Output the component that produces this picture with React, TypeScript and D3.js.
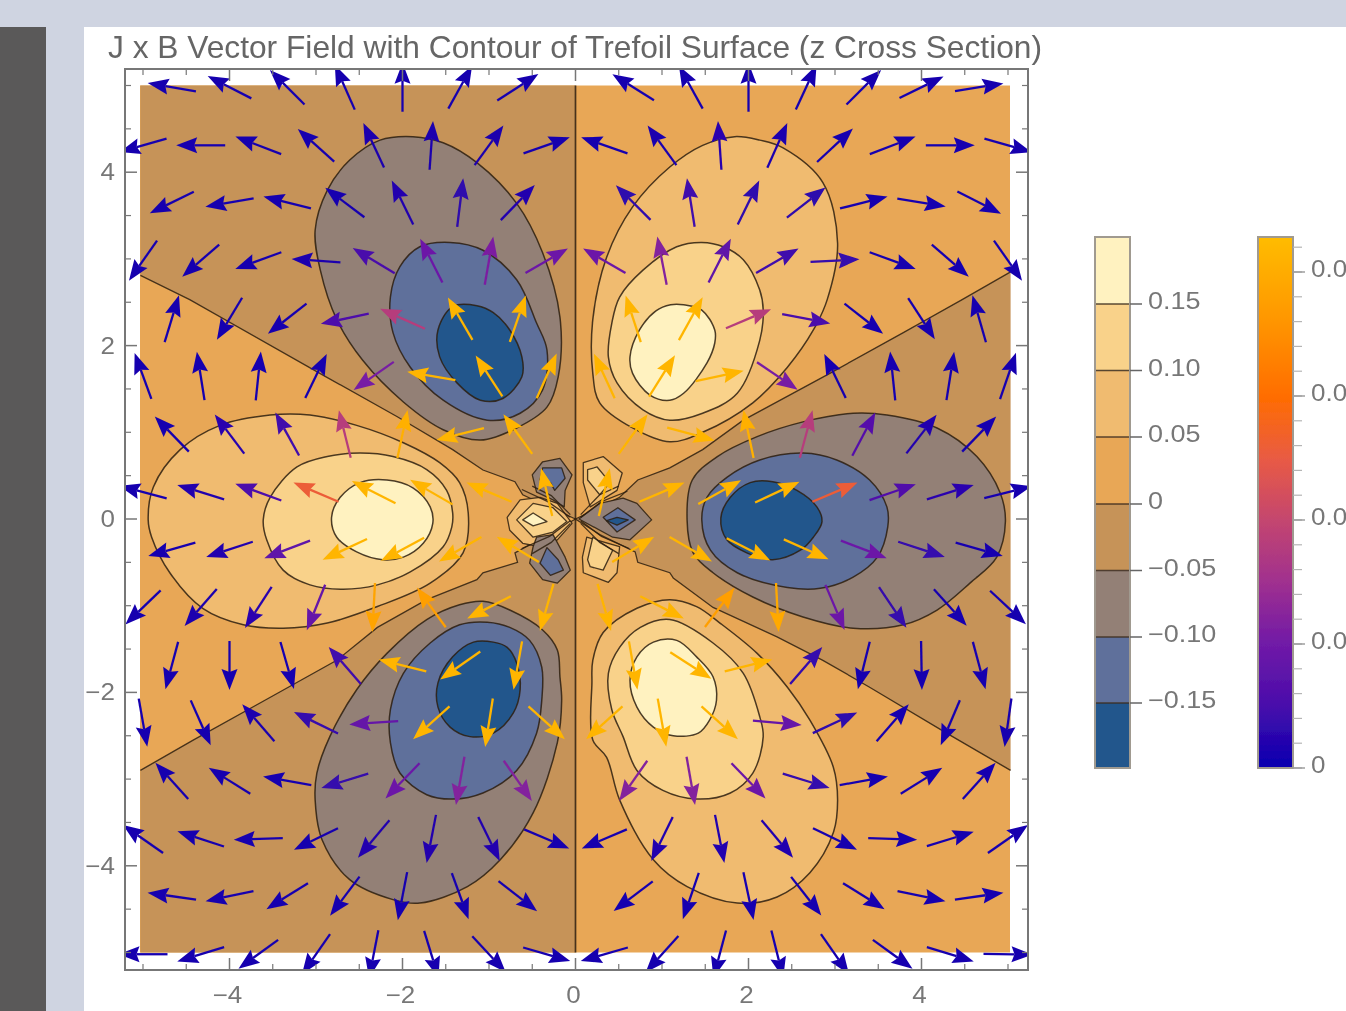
import React from "react";
import * as d3 from "d3";

type P = [number, number];

const title = "J x B Vector Field with Contour of Trefoil Surface (z Cross Section)";
const axisMajor = [-4, -2, 0, 2, 4];
const axisMinor = [-5, -4.5, -3.5, -3, -2.5, -1.5, -1, -0.5, 0.5, 1, 1.5, 2.5, 3, 3.5, 4.5, 5];

const levelLabels = ["0.15", "0.10", "0.05", "0", "\u22120.05", "\u22120.10", "\u22120.15"];
const levelColors = ["#FFF2C0", "#F9D28A", "#F0BB70", "#E8A757", "#C69358", "#938076", "#5E6F9B", "#23568C"];
const magLabels = ["0.0", "0.0", "0.0", "0.0", "0"];
const magStops = [0, 0.12, 0.233, 0.35, 0.467, 0.58, 0.7, 0.85, 1];
const magColors = ["#0800b0", "#4a0cab", "#701aa7", "#a0308f", "#c4466f", "#e85a45", "#ff6d00", "#ff9800", "#ffbc00"];

// zero contours (open edges of the darker sectors)
const zeroUpperLeft: P[] = [[-5.03, 2.81], [-4.46, 2.53], [-2.92, 1.66], [-2.06, 1.18], [-1.42, 0.8], [-1.07, 0.565], [-0.7, 0.43], [-0.61, 0.28], [-0.29, 0.13], [0, 0]];
const zeroRight: P[] = [[5.03, 2.85], [4.47, 2.53], [3.79, 2.15], [2.94, 1.68], [1.94, 1.14], [1.47, 0.8], [1.09, 0.59], [0.72, 0.45], [0.51, 0.25], [0, 0], [0.28, -0.18], [0.69, -0.38], [0.72, -0.5], [1.09, -0.62], [1.13, -0.68], [1.59, -1.02], [2.33, -1.36], [2.86, -1.63], [3.4, -1.94], [4.29, -2.47], [5.03, -2.9]];
const zeroLowerLeft: P[] = [[0, 0], [-0.3, -0.17], [-0.7, -0.39], [-0.67, -0.5], [-1.07, -0.62], [-1.14, -0.7], [-1.72, -0.93], [-2.29, -1.25], [-2.76, -1.63], [-3.59, -2.09], [-4.42, -2.55], [-5.03, -2.9]];
const zeroAxis: P[] = [[0, 5], [0, -5]];
const cornersUpperLeft: P[] = [[0, 5], [-5.03, 5]];
const cornersRight: P[] = [];
const cornersLowerLeft: P[] = [[-5.03, -5], [0, -5]];

// large lobes
const upperLeft05: P[] = [[-1.88, 4.41], [-1.53, 4.34], [-1.14, 4.11], [-0.68, 3.64], [-0.38, 3.07], [-0.18, 2.33], [-0.2, 1.64], [-0.33, 1.29], [-0.68, 1.05], [-1.1, 0.91], [-1.53, 1.03], [-1.99, 1.35], [-2.46, 1.83], [-2.76, 2.3], [-2.95, 2.87], [-3.01, 3.33], [-2.87, 3.79], [-2.61, 4.14], [-2.26, 4.37]];
const upperLeft10: P[] = [[-1.45, 3.19], [-1.07, 3.1], [-0.68, 2.76], [-0.45, 2.26], [-0.33, 1.95], [-0.38, 1.49], [-0.64, 1.22], [-1.02, 1.14], [-1.53, 1.37], [-1.91, 1.75], [-2.11, 2.15], [-2.14, 2.56], [-2.03, 2.91], [-1.8, 3.14]];
const upperLeft15: P[] = [[-1.14, 2.46], [-1.42, 2.45], [-1.59, 2.18], [-1.57, 1.87], [-1.37, 1.57], [-1.1, 1.37], [-0.84, 1.39], [-0.62, 1.64], [-0.62, 1.87], [-0.76, 2.18], [-0.95, 2.38]];
const upperRight05: P[] = [[1.84, 4.41], [2.13, 4.37], [2.4, 4.28], [2.86, 3.88], [3.03, 3.18], [2.91, 2.53], [2.75, 2.18], [2.45, 1.75], [2.05, 1.34], [1.47, 1.0], [1.09, 0.89], [0.66, 1.05], [0.28, 1.34], [0.2, 1.68], [0.2, 2.3], [0.36, 3.02], [0.66, 3.6], [1.09, 4.06], [1.47, 4.31]];
const upperRight10: P[] = [[1.46, 3.19], [1.71, 3.14], [1.94, 2.99], [2.13, 2.64], [2.17, 2.41], [2.13, 2.06], [1.87, 1.45], [1.47, 1.22], [1.09, 1.14], [0.78, 1.26], [0.48, 1.57], [0.38, 1.87], [0.42, 2.26], [0.51, 2.56], [0.78, 2.87], [1.17, 3.14]];
const upperRight15: P[] = [[1.1, 2.47], [1.25, 2.47], [1.46, 2.41], [1.61, 2.18], [1.61, 2.03], [1.52, 1.8], [1.25, 1.45], [1.09, 1.37], [0.86, 1.43], [0.66, 1.68], [0.63, 1.87], [0.74, 2.18], [0.93, 2.4]];
const left05: P[] = [[-4.94, -0.01], [-4.88, 0.37], [-4.57, 0.8], [-4.11, 1.08], [-3.53, 1.2], [-3.07, 1.2], [-2.53, 1.08], [-1.99, 0.88], [-1.57, 0.65], [-1.34, 0.42], [-1.24, 0.07], [-1.3, -0.39], [-1.68, -0.74], [-2.29, -1.01], [-2.87, -1.2], [-3.38, -1.26], [-3.84, -1.22], [-4.31, -1.03], [-4.69, -0.62], [-4.9, -0.21]];
const left10: P[] = [[-3.61, -0.01], [-3.53, 0.25], [-3.22, 0.6], [-2.87, 0.72], [-2.49, 0.76], [-2.11, 0.72], [-1.72, 0.57], [-1.49, 0.33], [-1.42, 0.07], [-1.43, -0.09], [-1.53, -0.32], [-1.91, -0.61], [-2.29, -0.76], [-2.69, -0.81], [-3.07, -0.76], [-3.38, -0.59], [-3.57, -0.24]];
const left15: P[] = [[-2.82, 0.02], [-2.72, 0.25], [-2.49, 0.42], [-2.18, 0.45], [-1.88, 0.36], [-1.68, 0.14], [-1.65, -0.05], [-1.76, -0.28], [-1.99, -0.44], [-2.23, -0.47], [-2.53, -0.38], [-2.76, -0.21]];
const right05: P[] = [[1.29, -0.01], [1.35, 0.45], [1.64, 0.72], [2.1, 0.95], [2.63, 1.12], [3.21, 1.22], [3.6, 1.2], [4.18, 1.05], [4.64, 0.72], [4.91, 0.3], [4.97, -0.03], [4.87, -0.44], [4.56, -0.74], [4.18, -1.05], [3.79, -1.22], [3.21, -1.26], [2.63, -1.13], [2.05, -0.9], [1.59, -0.62], [1.36, -0.39]];
const right10: P[] = [[1.46, -0.01], [1.52, 0.25], [1.75, 0.48], [2.13, 0.68], [2.63, 0.76], [3.02, 0.68], [3.4, 0.45], [3.6, 0.14], [3.61, -0.09], [3.49, -0.44], [3.21, -0.67], [2.83, -0.8], [2.45, -0.79], [1.87, -0.62], [1.56, -0.36]];
const right15: P[] = [[1.68, 0.01], [1.79, 0.25], [2.02, 0.42], [2.28, 0.43], [2.56, 0.33], [2.79, 0.14], [2.85, -0.03], [2.75, -0.21], [2.6, -0.36], [2.28, -0.47], [1.98, -0.39], [1.75, -0.24]];
const lowerRight05: P[] = [[1.09, -0.93], [0.71, -1.03], [0.32, -1.31], [0.2, -1.63], [0.19, -1.89], [0.2, -2.55], [0.36, -2.75], [0.51, -3.24], [0.9, -3.93], [1.29, -4.24], [1.87, -4.43], [2.33, -4.36], [2.71, -4.08], [2.98, -3.62], [3.03, -3.24], [2.98, -2.86], [2.71, -2.32], [2.45, -1.94], [2.1, -1.55], [1.67, -1.2], [1.4, -1.01]];
const lowerRight10: P[] = [[1.09, -1.16], [1.59, -1.43], [1.94, -1.78], [2.13, -2.28], [2.17, -2.51], [2.05, -2.93], [1.79, -3.16], [1.4, -3.23], [1.01, -3.13], [0.71, -2.9], [0.55, -2.51], [0.42, -2.2], [0.38, -1.78], [0.51, -1.48], [0.75, -1.25]];
const lowerRight15: P[] = [[0.9, -1.42], [1.17, -1.4], [1.4, -1.59], [1.59, -1.82], [1.63, -2.09], [1.55, -2.32], [1.42, -2.47], [1.13, -2.5], [0.9, -2.4], [0.71, -2.17], [0.63, -1.86], [0.71, -1.59]];
const lowerLeft05: P[] = [[-1.07, -0.95], [-1.34, -0.99], [-1.72, -1.16], [-2.18, -1.55], [-2.53, -1.97], [-2.84, -2.51], [-2.99, -2.93], [-3.01, -3.24], [-2.93, -3.7], [-2.61, -4.16], [-2.11, -4.39], [-1.8, -4.43], [-1.25, -4.24], [-0.87, -3.93], [-0.49, -3.39], [-0.21, -2.58], [-0.16, -2.09], [-0.18, -1.82], [-0.21, -1.51], [-0.38, -1.28], [-0.76, -1.05]];
const lowerLeft10: P[] = [[-1.02, -1.19], [-1.34, -1.22], [-1.68, -1.43], [-1.99, -1.78], [-2.14, -2.2], [-2.14, -2.58], [-2.03, -2.93], [-1.72, -3.18], [-1.42, -3.23], [-1.07, -3.16], [-0.68, -2.9], [-0.45, -2.47], [-0.39, -2.09], [-0.39, -1.71], [-0.53, -1.4], [-0.76, -1.25]];
const lowerLeft15: P[] = [[-0.95, -1.42], [-1.18, -1.42], [-1.42, -1.59], [-1.59, -1.89], [-1.59, -2.17], [-1.45, -2.4], [-1.22, -2.51], [-0.95, -2.47], [-0.72, -2.24], [-0.64, -1.97], [-0.68, -1.66], [-0.79, -1.48]];

// small features around the origin
const coreLeft05: P[] = [[-0.41, 0.25], [-0.64, 0.22], [-0.79, 0.02], [-0.76, -0.13], [-0.61, -0.28], [-0.41, -0.32], [-0.21, -0.24], [-0.04, -0.05], [-0.21, 0.18]];
const coreLeft10: P[] = [[-0.49, 0.18], [-0.68, -0.01], [-0.49, -0.21], [-0.26, -0.15], [-0.1, -0.03], [-0.26, 0.13]];
const coreLeft15: P[] = [[-0.49, 0.07], [-0.61, -0.01], [-0.49, -0.08], [-0.33, -0.03]];
const coreRight05: P[] = [[0.55, 0.24], [0.28, 0.18], [0.04, 0.0], [0.43, -0.21], [0.63, -0.24], [0.88, -0.01], [0.71, 0.18]];
const coreRight10: P[] = [[0.49, 0.13], [0.32, 0.02], [0.48, -0.15], [0.69, -0.01]];
const coreRight15: P[] = [[0.48, 0.02], [0.36, -0.02], [0.48, -0.07], [0.61, -0.01]];
const smallUL05: P[] = [[-0.5, 0.51], [-0.38, 0.66], [-0.18, 0.7], [-0.04, 0.51], [-0.12, 0.33], [-0.13, 0.14], [-0.26, 0.22], [-0.45, 0.31]];
const smallUL10: P[] = [[-0.38, 0.59], [-0.16, 0.59], [-0.12, 0.47], [-0.24, 0.33], [-0.29, 0.42], [-0.41, 0.45]];
const smallLL05: P[] = [[-0.45, -0.21], [-0.26, -0.18], [-0.12, -0.44], [-0.06, -0.59], [-0.21, -0.74], [-0.38, -0.7], [-0.53, -0.51], [-0.49, -0.32]];
const smallLL10: P[] = [[-0.33, -0.33], [-0.2, -0.47], [-0.14, -0.59], [-0.29, -0.65], [-0.41, -0.51]];
const smallUR05: P[] = [[0.09, 0.65], [0.32, 0.72], [0.54, 0.53], [0.48, 0.33], [0.17, 0.14], [0.09, 0.42]];
const smallUR10: P[] = [[0.14, 0.57], [0.25, 0.6], [0.4, 0.42], [0.28, 0.28], [0.14, 0.45]];
const smallLR05: P[] = [[0.13, -0.21], [0.51, -0.32], [0.48, -0.62], [0.38, -0.73], [0.09, -0.62], [0.08, -0.44]];
const smallLR10: P[] = [[0.2, -0.21], [0.43, -0.36], [0.32, -0.59], [0.17, -0.55], [0.14, -0.47]];

// bundles of contour lines converging on the origin
const bandUL1: P[] = [[-0.06, 0.02], [-0.32, 0.2], [-0.62, 0.34]];
const bandUL2: P[] = [[-0.06, 0.05], [-0.28, 0.27], [-0.5, 0.38]];
const bandUR1: P[] = [[0.06, 0.02], [0.3, 0.2], [0.6, 0.32]];
const bandUR2: P[] = [[0.06, 0.05], [0.28, 0.28], [0.5, 0.38]];
const bandLL1: P[] = [[-0.06, -0.02], [-0.3, -0.2], [-0.62, -0.34]];
const bandLL2: P[] = [[-0.06, -0.05], [-0.28, -0.27], [-0.5, -0.4]];
const bandLR1: P[] = [[0.06, -0.02], [0.3, -0.2], [0.62, -0.34]];
const bandLR2: P[] = [[0.06, -0.05], [0.28, -0.27], [0.5, -0.4]];

// arrows: staggered sample rows
const rowY = [4.98, 4.31, 3.65, 2.98, 2.31, 1.65, 0.98, 0.31, -0.35, -1.02, -1.69, -2.35, -3.02, -3.69, -4.35, -5.02];
const wholeCols = [-4.667, -4, -3.333, -2.667, -2, -1.333, -0.667, 0.667, 1.333, 2, 2.667, 3.333, 4, 4.667];
const halfCols = [-5, -4.333, -3.667, -3, -2.333, -1.667, -1, -0.333, 0.333, 1, 1.667, 2.333, 3, 3.667, 4.333, 5];

const angleRows: number[][] = [
  [170, 153, 135, 114, 90, 61, 33, 148, 119, 90, 65, 45, 26, 9],
  [196, 180, 159, 138, 115, 86, 54, 19, 161, 126, 94, 66, 43, 21, 0, -16],
  [206, 190, 166, 143, 116, 83, 46, 135, 99, 64, 38, 14, -9, -27],
  [235, 221, 200, 176, 149, 117, 80, 30, 150, 101, 63, 30, 3, -20, -41, -55],
  [73, 239, 218, 192, 156, 120, 71, 108, 61, 23, -11, -38, -57, 106],
  [110, 99, 84, 64, 215, 170, 123, 66, 115, 58, 12, -34, 116, 96, 81, 71],
  [134, 127, 119, 104, 78, 194, 126, 54, -15, 102, 75, 62, 52, 46],
  [165, 163, 160, 157, 153, 150, 157, 103, 77, 23, 29, 25, 23, 19, 17, 14],
  [196, 198, 201, 205, 208, 210, 149, 31, -30, -27, -24, -21, -18, -16],
  [224, 229, 237, 248, 267, 126, 207, 254, -74, -27, 53, -87, -67, -56, -48, -43],
  [255, 270, 286, 131, 166, 215, 260, -80, -33, 14, 49, 256, -89, -75],
  [-80, -66, 131, 154, 184, 222, 261, -42, 222, -80, -42, -5, 25, 49, 247, 262],
  [132, 148, 170, 197, 226, 260, -55, 235, -80, -46, -17, 10, 32, 48],
  [145, 162, 182, 206, 230, 259, -64, -23, 203, 244, -79, -50, -26, -2, 17, 35],
  [172, 192, 212, 233, 259, -70, -38, 217, 251, -78, -52, -32, -12, 8],
  [180, 197, 216, 235, 259, -73, -47, -16, 196, 228, 255, -76, -55, -36, -17, -1],
];

const magRows: number[][] = [
  [0.03, 0.03, 0.03, 0.03, 0.03, 0.03, 0.03, 0.03, 0.03, 0.03, 0.03, 0.03, 0.03, 0.03],
  [0.03, 0.03, 0.03, 0.03, 0.04, 0.04, 0.04, 0.03, 0.03, 0.04, 0.06, 0.04, 0.03, 0.03, 0.03, 0.03],
  [0.03, 0.03, 0.03, 0.03, 0.05, 0.07, 0.05, 0.07, 0.1, 0.07, 0.07, 0.03, 0.03, 0.03],
  [0.03, 0.03, 0.03, 0.04, 0.12, 0.22, 0.26, 0.22, 0.22, 0.28, 0.18, 0.1, 0.08, 0.03, 0.03, 0.03],
  [0.03, 0.03, 0.03, 0.13, 0.42, 0.97, 0.97, 0.97, 0.97, 0.42, 0.12, 0.03, 0.03, 0.03],
  [0.03, 0.03, 0.03, 0.03, 0.25, 0.97, 0.97, 0.97, 0.97, 0.97, 0.97, 0.25, 0.03, 0.03, 0.03, 0.03],
  [0.03, 0.06, 0.1, 0.42, 0.95, 0.97, 0.97, 0.97, 0.97, 0.95, 0.42, 0.15, 0.05, 0.03],
  [0.03, 0.05, 0.13, 0.6, 0.97, 0.97, 0.97, 0.97, 0.97, 0.97, 0.97, 0.97, 0.6, 0.14, 0.06, 0.03],
  [0.03, 0.05, 0.18, 0.97, 0.97, 0.97, 0.97, 0.97, 0.97, 0.97, 0.97, 0.22, 0.08, 0.03],
  [0.03, 0.04, 0.06, 0.2, 0.9, 0.88, 0.97, 0.97, 0.97, 0.97, 0.88, 0.92, 0.22, 0.08, 0.03, 0.03],
  [0.03, 0.03, 0.03, 0.1, 0.97, 0.97, 0.97, 0.97, 0.97, 0.97, 0.08, 0.03, 0.03, 0.03],
  [0.03, 0.03, 0.04, 0.08, 0.2, 0.97, 0.97, 0.97, 0.97, 0.97, 0.97, 0.2, 0.07, 0.03, 0.03, 0.03],
  [0.03, 0.03, 0.03, 0.08, 0.22, 0.28, 0.28, 0.28, 0.28, 0.22, 0.08, 0.03, 0.03, 0.03],
  [0.03, 0.03, 0.03, 0.03, 0.05, 0.05, 0.05, 0.03, 0.03, 0.05, 0.05, 0.05, 0.03, 0.03, 0.03, 0.03],
  [0.03, 0.03, 0.03, 0.03, 0.03, 0.03, 0.03, 0.03, 0.03, 0.03, 0.03, 0.03, 0.03, 0.03],
  [0.03, 0.03, 0.03, 0.03, 0.03, 0.03, 0.03, 0.03, 0.03, 0.03, 0.03, 0.03, 0.03, 0.03, 0.03, 0.03],
];

const FONT = "'Liberation Sans', Arial, sans-serif";
const GRAY = "#777777";
const LINE = "rgba(45,30,15,0.85)";

// the reference's labels are wider than they are tall: size 23, laid out wider
const labelLength = (s: string, em: number) =>
  Array.from(s).reduce((w, c) => w + (c === "." ? 0.278 : c === "\u2212" ? 0.584 : 0.556), 0) * em;

export default function App() {
  const x = d3.scaleLinear([-5, 5], [143, 1008]);
  const y = d3.scaleLinear([-5, 5], [952.5, 85.5]);
  const smooth = d3.line<P>().x((p) => x(p[0])).y((p) => y(p[1])).curve(d3.curveCatmullRomClosed.alpha(0.5));
  const sharp = d3.line<P>().x((p) => x(p[0])).y((p) => y(p[1])).curve(d3.curveLinearClosed);
  const open = d3.line<P>().x((p) => x(p[0])).y((p) => y(p[1]));
  const magColor = d3.scaleLinear<string>().domain(magStops).range(magColors);

  const plotX0 = 140, plotX1 = 1010;
  const sectors: P[][] = [
    [...zeroUpperLeft, ...cornersUpperLeft],
    [...zeroRight, ...cornersRight],
    [...zeroLowerLeft, ...cornersLowerLeft],
  ];

  const lobes: [P[], number][] = [
    [upperLeft05, 5], [upperLeft10, 6], [upperLeft15, 7],
    [upperRight05, 2], [upperRight10, 1], [upperRight15, 0],
    [left05, 2], [left10, 1], [left15, 0],
    [right05, 5], [right10, 6], [right15, 7],
    [lowerRight05, 2], [lowerRight10, 1], [lowerRight15, 0],
    [lowerLeft05, 5], [lowerLeft10, 6], [lowerLeft15, 7],
  ];
  const small: [P[], number][] = [
    [coreLeft05, 2], [coreLeft10, 1], [coreLeft15, 0],
    [coreRight05, 5], [coreRight10, 6], [coreRight15, 7],
    [smallUL05, 5], [smallUL10, 6], [smallLL05, 5], [smallLL10, 6],
    [smallUR05, 2], [smallUR10, 1], [smallLR05, 2], [smallLR10, 1],
  ];
  const bands = [bandUL1, bandUL2, bandUR1, bandUR2, bandLL1, bandLL2, bandLR1, bandLR2];

  const arrowLen = 49, headLen = 21, headW = 8, notch = 3;
  const arrows = rowY.flatMap((v, r) => {
    const cols = r % 2 === 0 ? wholeCols : halfCols;
    return cols.map((c, i) => {
      const a = (angleRows[r][i] * Math.PI) / 180;
      const ux = Math.cos(a), uy = -Math.sin(a);
      const cx = x(c), cy = y(v);
      const tx = cx + (ux * arrowLen) / 2, ty = cy + (uy * arrowLen) / 2;
      const bx = cx - (ux * arrowLen) / 2, by = cy - (uy * arrowLen) / 2;
      const hx = tx - ux * headLen, hy = ty - uy * headLen;
      const nx = tx - ux * (headLen - notch), ny = ty - uy * (headLen - notch);
      const d = `M${tx},${ty}L${hx - uy * headW},${hy + ux * headW}L${nx},${ny}L${hx + uy * headW},${hy - ux * headW}Z`;
      return { key: `${r}-${i}`, bx, by, nx, ny, d, color: magColor(magRows[r][i]) };
    });
  });

  const legY0 = 237, legY1 = 768;
  const levelEdges = [237, 304, 370.5, 437, 504, 570.5, 637, 703, 768];
  const magTickYs = d3.scaleLinear([0, 4], [768, 272]);
  const magMinorVals = d3.range(0, 21).map((d) => d / 5).concat([4.2]);

  const label = (s: string, xx: number, yy: number, anchor: string, key: string, em = 26) => (
    <text key={key} x={xx} y={yy} textAnchor={anchor} fontFamily={FONT} fontSize={23} fill={GRAY} textLength={labelLength(s, em)} lengthAdjust="spacingAndGlyphs">
      {s}
    </text>
  );

  return (
    <svg width={1346} height={1011} viewBox="0 0 1346 1011" style={{ position: "fixed", left: 0, top: 0, display: "block" }}>
      <defs>
        <filter id="soft" x="-2%" y="-2%" width="104%" height="104%">
          <feGaussianBlur stdDeviation="0.6" />
        </filter>
        <clipPath id="frame">
          <rect x={125} y={69} width={903} height={901} />
        </clipPath>
        <linearGradient id="ramp" x1="0" y1="1" x2="0" y2="0">
          {magStops.map((s, i) => (
            <stop key={s} offset={s} stopColor={magColors[i]} />
          ))}
        </linearGradient>
      </defs>
      <rect width={1346} height={1011} fill="#CFD4E1" />
      <rect x={0} y={27} width={46} height={984} fill="#5A5959" />
      <rect x={84} y={27} width={1262} height={984} fill="#FFFFFF" />
      <g filter="url(#soft)">
        <text x={108} y={58} fontFamily={FONT} fontSize={32} fill="#666666" textLength={934} lengthAdjust="spacingAndGlyphs">
          {title}
        </text>
        <g clipPath="url(#frame)">
          <rect x={plotX0} y={y(5)} width={plotX1 - plotX0} height={y(-5) - y(5)} fill={levelColors[3]} />
          {sectors.map((s, i) => (
            <path key={i} d={open(s.concat([s[0]])) as string} fill={levelColors[4]} />
          ))}
          {[zeroUpperLeft, zeroRight, zeroLowerLeft, zeroAxis].map((s, i) => (
            <path key={i} d={open(s) as string} fill="none" stroke={LINE} strokeWidth={i === 3 ? 1.7 : 1.3} />
          ))}
          {lobes.map(([pts, lvl], i) => (
            <path key={i} d={smooth(pts) as string} fill={levelColors[lvl]} stroke={LINE} strokeWidth={1.5} />
          ))}
          {small.map(([pts, lvl], i) => (
            <path key={i} d={sharp(pts) as string} fill={levelColors[lvl]} stroke={LINE} strokeWidth={1.3} strokeLinejoin="round" />
          ))}
          {bands.map((b, i) => (
            <path key={i} d={open(b) as string} fill="none" stroke={LINE} strokeWidth={1.3} />
          ))}
          {arrows.map((a) => (
            <g key={a.key}>
              <line x1={a.bx} y1={a.by} x2={a.nx} y2={a.ny} stroke={a.color} strokeWidth={2.3} />
              <path d={a.d} fill={a.color} />
            </g>
          ))}
        </g>
        <rect x={125} y={69} width={903} height={901} fill="none" stroke={GRAY} strokeWidth={2} />
        {axisMajor.map((t) => (
          <g key={t} stroke={GRAY} strokeWidth={1.5}>
            <line x1={x(t)} x2={x(t)} y1={69} y2={81} />
            <line x1={x(t)} x2={x(t)} y1={970} y2={958} />
            <line y1={y(t)} y2={y(t)} x1={125} x2={137} />
            <line y1={y(t)} y2={y(t)} x1={1028} x2={1016} />
          </g>
        ))}
        {axisMinor.map((t) => (
          <g key={t} stroke={GRAY} strokeWidth={1.2}>
            <line x1={x(t)} x2={x(t)} y1={69} y2={75} />
            <line x1={x(t)} x2={x(t)} y1={970} y2={964} />
            <line y1={y(t)} y2={y(t)} x1={125} x2={131} />
            <line y1={y(t)} y2={y(t)} x1={1028} x2={1022} />
          </g>
        ))}
        {axisMajor.map((t) => label(t < 0 ? `\u2212${-t}` : `${t}`, x(t) - 2, 1003, "middle", `x${t}`))}
        {axisMajor.map((t) => label(t < 0 ? `\u2212${-t}` : `${t}`, 115, y(t) + 8, "end", `y${t}`))}

        {levelColors.map((c, i) => (
          <rect key={c} x={1095} y={levelEdges[i]} width={35} height={levelEdges[i + 1] - levelEdges[i]} fill={c} />
        ))}
        {levelEdges.slice(1, -1).map((e) => (
          <line key={e} x1={1095} x2={1130} y1={e} y2={e} stroke="rgba(60,45,30,0.85)" strokeWidth={1.5} />
        ))}
        <rect x={1095} y={legY0} width={35} height={legY1 - legY0} fill="none" stroke="#a09a90" strokeWidth={2} />
        {levelLabels.map((l, i) => (
          <g key={l}>
            <line x1={1130} x2={1142} y1={levelEdges[i + 1]} y2={levelEdges[i + 1]} stroke="#666" strokeWidth={1.5} />
            {label(l, 1148, levelEdges[i + 1] + 5, "start", `l${i}`, 27)}
          </g>
        ))}

        <rect x={1258} y={legY0} width={35} height={legY1 - legY0} fill="url(#ramp)" stroke="#a09a90" strokeWidth={2} />
        {magMinorVals.map((m) => (
          <line key={m} x1={1293} x2={1302} y1={magTickYs(m)} y2={magTickYs(m)} stroke="#b5b5b5" strokeWidth={1.2} />
        ))}
        {magLabels.map((l, i) => (
          <g key={i}>
            <line x1={1293} x2={1305} y1={magTickYs(4 - i)} y2={magTickYs(4 - i)} stroke="#999" strokeWidth={1.4} />
            {label(l, 1311, magTickYs(4 - i) + 5, "start", `m${i}`)}
          </g>
        ))}
      </g>
    </svg>
  );
}
